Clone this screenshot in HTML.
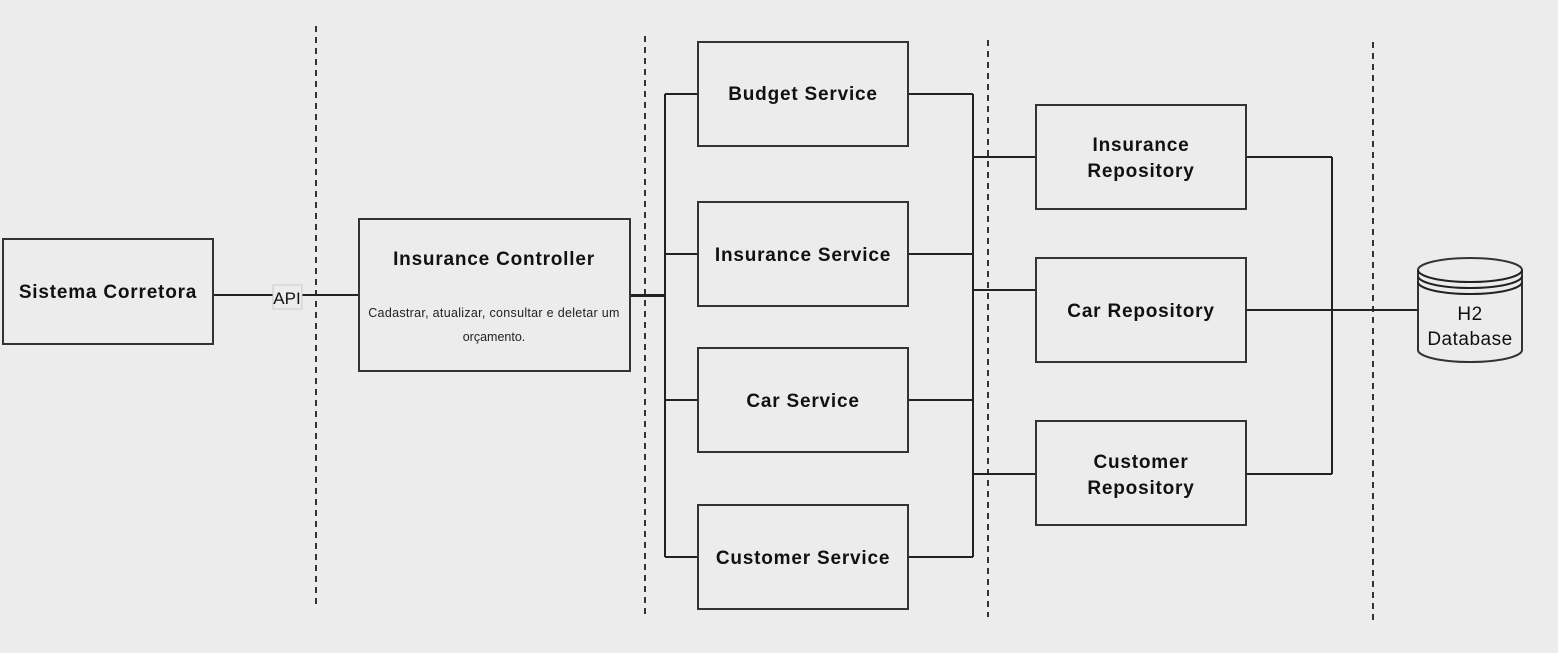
<!DOCTYPE html>
<html><head><style>
body{margin:0;background:#ececec;}
svg{display:block;font-family:"Liberation Sans",sans-serif;}
.b{fill:#ececec;stroke:#333;stroke-width:2}
.t{font-weight:bold;font-size:19px;fill:#111;text-anchor:middle;letter-spacing:0.8px}
.l{stroke:#222;stroke-width:2;fill:none}
.d{stroke:#333;stroke-width:2;stroke-dasharray:6,5}
</style></head><body>
<svg width="1558" height="653" viewBox="0 0 1558 653">
<rect width="1558" height="653" fill="#ececec"/>
<line class="d" x1="316" y1="26" x2="316" y2="604"/>
<line class="d" x1="645" y1="36" x2="645" y2="614"/>
<line class="d" x1="988" y1="40" x2="988" y2="617"/>
<line class="d" x1="1373" y1="42" x2="1373" y2="620"/>
<path class="l" d="M213 295 H359"/>
<rect x="273" y="285" width="29" height="24" fill="#ececec" stroke="#ccc"/>
<text x="287" y="304" font-size="17" text-anchor="middle" fill="#111">API</text>
<path class="l" d="M630 295 H665 M665 94 V557 M665 94 H698 M665 254 H698 M665 400 H698 M665 557 H698"/>
<path class="l" stroke-width="3" d="M630 296 H665"/>
<path class="l" d="M908 94 H973 M908 254 H973 M908 400 H973 M908 557 H973 M973 94 V557 M973 157 H1036 M973 290 H1036 M973 474 H1036"/>
<path class="l" d="M1246 157 H1332 M1246 310 H1332 M1246 474 H1332 M1332 157 V474 M1332 310 H1418"/>
<path class="l" stroke-width="3" d="M1332 310 H1418"/>
<rect class="b" x="3" y="239" width="210" height="105"/>
<text class="t" x="108" y="298">Sistema Corretora</text>
<rect class="b" x="359" y="219" width="271" height="152"/>
<text class="t" x="494" y="265">Insurance Controller</text>
<text x="494" y="317" font-size="12.5" text-anchor="middle" fill="#222" letter-spacing="0.3">Cadastrar, atualizar, consultar e deletar um</text>
<text x="494" y="341" font-size="12.5" text-anchor="middle" fill="#222">orçamento.</text>
<rect class="b" x="698" y="42" width="210" height="104"/><text class="t" x="803" y="100">Budget Service</text>
<rect class="b" x="698" y="202" width="210" height="104"/><text class="t" x="803" y="261">Insurance Service</text>
<rect class="b" x="698" y="348" width="210" height="104"/><text class="t" x="803" y="407">Car Service</text>
<rect class="b" x="698" y="505" width="210" height="104"/><text class="t" x="803" y="564">Customer Service</text>
<rect class="b" x="1036" y="105" width="210" height="104"/><text class="t" x="1141" y="151">Insurance</text><text class="t" x="1141" y="177">Repository</text>
<rect class="b" x="1036" y="258" width="210" height="104"/><text class="t" x="1141" y="317">Car Repository</text>
<rect class="b" x="1036" y="421" width="210" height="104"/><text class="t" x="1141" y="468">Customer</text><text class="t" x="1141" y="494">Repository</text>
<path class="b" d="M1418 270 V350 A52 12 0 0 0 1522 350 V270 A52 12 0 0 0 1418 270 Z"/>
<path class="l" d="M1418 270 A52 12 0 0 0 1522 270 M1418 276 A52 12 0 0 0 1522 276 M1418 282 A52 12 0 0 0 1522 282"/>
<text x="1470" y="320" font-size="19" text-anchor="middle" fill="#111" letter-spacing="0.5">H2</text>
<text x="1470" y="345" font-size="19" text-anchor="middle" fill="#111" letter-spacing="0.5">Database</text>
</svg>
</body></html>
